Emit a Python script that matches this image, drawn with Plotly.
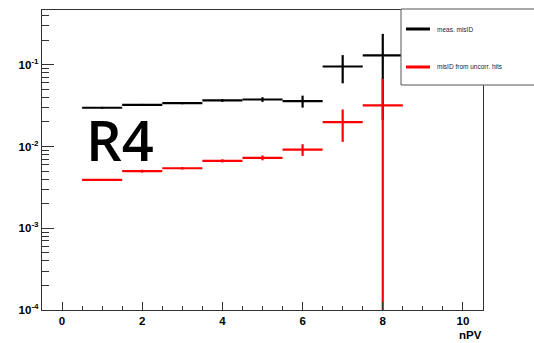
import plotly.graph_objects as go

# nPV bin centres and measured misID fractions
npv = [1, 2, 3, 4, 5, 6, 7, 8]
meas_misid = [0.0298, 0.0324, 0.0339, 0.0366, 0.0376, 0.0359, 0.0953, 0.130]
meas_err = [0.0008, 0.0008, 0.0010, 0.0015, 0.0025, 0.0060, 0.036, 0.109]

uncorr_misid = [0.0039, 0.0050, 0.00542, 0.00668, 0.00728, 0.00918, 0.0199, 0.0318]
uncorr_err_up = [0.0001, 0.0002, 0.0002, 0.0003, 0.0005, 0.0015, 0.0085, 0.0356]
uncorr_err_dn = [0.0001, 0.0002, 0.0002, 0.0003, 0.0005, 0.0015, 0.0085, 0.0318]

bin_half_width = [0.5] * len(npv)

y_tick_vals = [1e-4, 1e-3, 1e-2, 1e-1]
y_tick_text = ["<b>10<sup>-4</sup></b>", "<b>10<sup>-3</sup></b>",
               "<b>10<sup>-2</sup></b>", "<b>10<sup>-1</sup></b>"]
x_tick_vals = [0, 2, 4, 6, 8, 10]

W, H = 534, 343
L, R, T, B = 42, 483, 10, 310


def px(x):
    return (x - L) / (R - L)


def py(y):
    return (B - y) / (B - T)


fig = go.Figure()

fig.add_trace(go.Scatter(
    x=npv, y=meas_misid, mode="markers", name="meas. misID",
    marker=dict(size=1, color="black"),
    error_x=dict(type="data", array=bin_half_width, width=0, thickness=2.2, color="black"),
    error_y=dict(type="data", array=meas_err, width=0, thickness=2.2, color="black"),
    showlegend=False,
))
fig.add_trace(go.Scatter(
    x=npv, y=uncorr_misid, mode="markers", name="misID from uncorr. hits",
    marker=dict(size=1, color="red"),
    error_x=dict(type="data", array=bin_half_width, width=0, thickness=2.2, color="red"),
    error_y=dict(type="data", symmetric=False, array=uncorr_err_up, arrayminus=uncorr_err_dn,
                 width=0, thickness=2.2, color="red"),
    showlegend=False,
))

minor_y = [m * 10 ** e for e in range(-4, 0) for m in range(2, 10)] + [0.2, 0.3, 0.4]

fig.update_xaxes(
    range=[-0.5, 10.5], showgrid=False, zeroline=False,
    showline=True, linecolor="#333", linewidth=1.3, mirror=True,
    tickmode="array", tickvals=x_tick_vals, ticktext=[f"<b>{v}</b>" for v in x_tick_vals],
    ticks="inside", ticklen=8, tickcolor="#333", tickwidth=1,
    minor=dict(ticks="inside", ticklen=4, dtick=0.5, tick0=0, tickcolor="#333", tickwidth=1),
    tickfont=dict(family="Liberation Sans", size=11.5, color="black"),
)
fig.update_yaxes(
    type="log", range=[-4, -0.33], showgrid=False, zeroline=False,
    showline=True, linecolor="#333", linewidth=1.3, mirror=True,
    tickmode="array", tickvals=y_tick_vals, ticktext=y_tick_text,
    ticks="inside", ticklen=12, tickcolor="#333", tickwidth=1,
    minor=dict(ticks="inside", ticklen=7, tickmode="array", tickvals=minor_y,
               tickcolor="#333", tickwidth=1),
    tickfont=dict(family="Liberation Sans", size=11.5, color="black"),
)

shapes = [
    # legend box
    dict(type="rect", xref="paper", yref="paper", x0=px(401), x1=px(545), y0=py(85), y1=py(9),
         line=dict(color="#555", width=1), fillcolor="white", layer="above"),
    dict(type="line", xref="paper", yref="paper", x0=px(406), x1=px(430), y0=py(29), y1=py(29),
         line=dict(color="black", width=3), layer="above"),
    dict(type="line", xref="paper", yref="paper", x0=px(406), x1=px(430), y0=py(67), y1=py(67),
         line=dict(color="red", width=3), layer="above"),
]

annotations = [
    dict(text="meas. misID", xref="paper", yref="paper", x=px(435), y=py(29),
         xanchor="left", yanchor="middle", showarrow=False,
         font=dict(family="Liberation Sans", size=6.5, color="#1a1a3a")),
    dict(text="misID from uncorr. hits", xref="paper", yref="paper", x=px(435), y=py(67),
         xanchor="left", yanchor="middle", showarrow=False,
         font=dict(family="Liberation Sans", size=6.5, color="#1a1a3a")),
    dict(text="<b>nPV</b>", xref="paper", yref="paper", x=px(484), y=py(335),
         xanchor="right", yanchor="middle", showarrow=False,
         font=dict(family="Liberation Sans", size=11.5, color="black")),
    dict(text="R4", xref="paper", yref="paper", x=px(84), y=py(139),
         xanchor="left", yanchor="middle", showarrow=False,
         font=dict(family="Open Sans", size=56, color="black", weight=600)),
]

fig.update_layout(
    width=W, height=H,
    margin=dict(l=L, r=W - R, t=T, b=H - B),
    paper_bgcolor="white", plot_bgcolor="white",
    shapes=shapes, annotations=annotations,
)

fig.write_html("out.html")
